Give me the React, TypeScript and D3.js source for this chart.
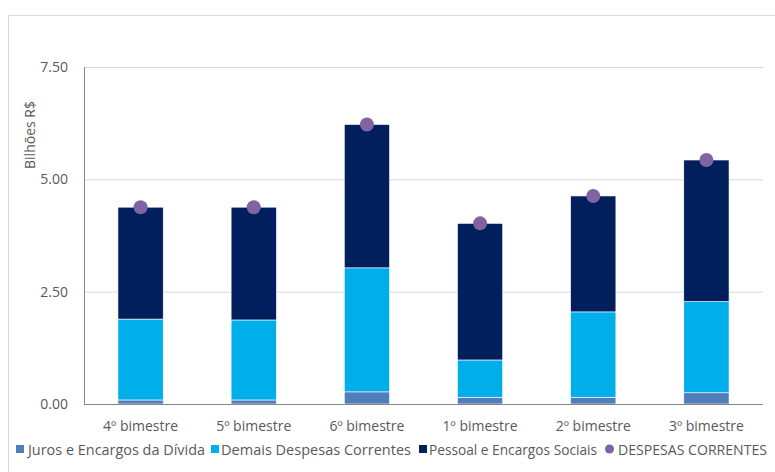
import React from "react";
import * as d3 from "d3";

const categories = ["4º bimestre", "5º bimestre", "6º bimestre", "1º bimestre", "2º bimestre", "3º bimestre"];
const juros = [0.09, 0.09, 0.27, 0.15, 0.15, 0.25];
const demais = [1.80, 1.78, 2.76, 0.83, 1.90, 2.03];
const pessoal = [2.49, 2.51, 3.19, 3.04, 2.58, 3.15];
const despesasCorrentes = [4.38, 4.38, 6.22, 4.02, 4.63, 5.43];
const yTicks = [0, 2.5, 5, 7.5];

const seriesNames = ["Juros e Encargos da Dívida", "Demais Despesas Correntes", "Pessoal e Encargos Sociais"];
const seriesColors = ["#4F7EBB", "#00AEEA", "#001F5C"];
const dotName = "DESPESAS CORRENTES";
const dotColor = "#8064A2";

const W = 775, H = 472;
const plot = { left: 84, right: 763, top: 67, bottom: 404 };
const FONT = "'Open Sans', sans-serif";
const TXT = "#595959";

export default function App() {
  const x = d3.scaleBand<string>().domain(categories).range([plot.left, plot.right]).paddingInner(0.6).paddingOuter(0.3);
  const y = d3.scaleLinear().domain([0, 7.5]).range([plot.bottom, plot.top]);

  const table = categories.map((c, i) => ({ cat: c, j: juros[i], d: demais[i], p: pessoal[i] }));
  const stack = d3.stack<any>().keys(["j", "d", "p"])(table);

  const legendItems = [
    { x: 16, tx: 28, name: seriesNames[0], color: seriesColors[0], dot: false, len: 177 },
    { x: 211, tx: 221, name: seriesNames[1], color: seriesColors[1], dot: false, len: 190 },
    { x: 419, tx: 429, name: seriesNames[2], color: seriesColors[2], dot: false, len: 168 },
    { x: 609.5, tx: 618, name: dotName, color: dotColor, dot: true, len: 149 },
  ];

  return (
    <svg width={W} height={H} style={{ position: "absolute", left: 0, top: 0, background: "#fff" }}>
      <rect x={8.5} y={15.5} width={W} height={H} fill="none" stroke="#D9D9D9" strokeWidth={1} />
      {yTicks.map((t) => (
        <g key={t}>
          {t > 0 && (
            <line x1={plot.left} x2={plot.right} y1={y(t) + 0.5} y2={y(t) + 0.5} stroke="#D9D9D9" strokeWidth={1} />
          )}
          <text x={68} y={y(t) + 5} textAnchor="end" fontFamily={FONT} fontSize={14} fill={TXT}>
            {d3.format(".2f")(t)}
          </text>
        </g>
      ))}
      <line x1={plot.left + 0.5} x2={plot.left + 0.5} y1={plot.top} y2={plot.bottom} stroke="#868686" strokeWidth={1} />
      <text
        transform={`translate(35,${135}) rotate(-90)`}
        textAnchor="middle"
        fontFamily={FONT}
        fontSize={14}
        fill={TXT}
      >
        Bilhões R$
      </text>
      {stack.map((s, si) => (
        <g key={si}>
          {s.map((d: any, i: number) => (
            <rect
              key={i}
              x={x(categories[i])}
              width={x.bandwidth()}
              y={y(d[1])}
              height={y(d[0]) - y(d[1])}
              fill={seriesColors[si]}
              stroke="#fff"
              strokeWidth={0.6}
            />
          ))}
        </g>
      ))}
      <line x1={plot.left} x2={plot.right} y1={plot.bottom + 0.5} y2={plot.bottom + 0.5} stroke="#868686" strokeWidth={1} />
      {despesasCorrentes.map((v, i) => (
        <circle key={i} cx={(x(categories[i]) as number) + x.bandwidth() / 2} cy={y(v)} r={7} fill={dotColor} />
      ))}
      {categories.map((c) => (
        <text
          key={c}
          x={(x(c) as number) + x.bandwidth() / 2}
          y={431}
          textAnchor="middle"
          fontFamily={FONT}
          fontSize={14}
          fill={TXT}
        >
          {c}
        </text>
      ))}
      {legendItems.map((it) => (
        <g key={it.name}>
          {it.dot ? (
            <circle cx={it.x} cy={449} r={4.5} fill={it.color} />
          ) : (
            <rect x={it.x} y={445} width={8} height={8} fill={it.color} />
          )}
          <text
            x={it.tx}
            y={455}
            fontFamily={FONT}
            fontSize={14}
            fill={TXT}
            textLength={it.len}
            lengthAdjust="spacingAndGlyphs"
          >
            {it.name}
          </text>
        </g>
      ))}
    </svg>
  );
}
